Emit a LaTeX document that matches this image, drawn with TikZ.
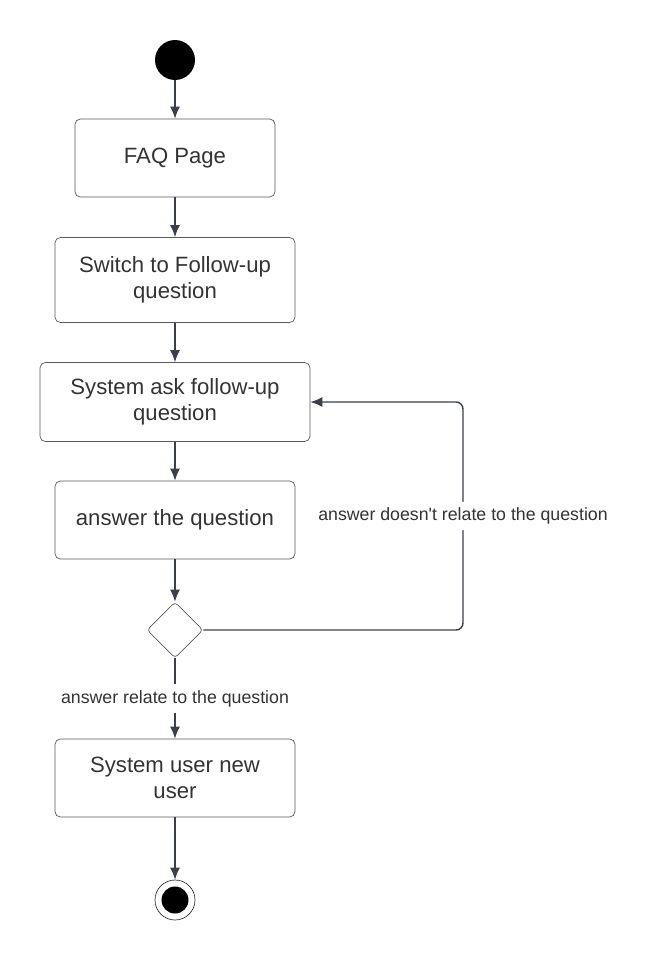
\documentclass[tikz,border=0pt]{standalone}
\usepackage{fontspec}
\setmainfont{Liberation Sans}
\usetikzlibrary{shapes.geometric, arrows, arrows.meta, positioning}
\definecolor{linegray}{HTML}{3A3F4A}
\definecolor{textgray}{HTML}{333333}

\begin{document}
\begin{tikzpicture}[x=0.02cm, y=-0.02cm]
		\tikzstyle{Act} = [rectangle, rounded corners=3pt, minimum height=1.56cm, align=center, draw=black!65, text=textgray, font=\fontsize{12.6}{14.8}\selectfont]
		\tikzstyle{Lbl} = [fill=white, text=textgray, font=\fontsize{10.1}{12}\selectfont]
		\tikzstyle{arrow} = [thick, linegray, ->, >={Latex[length=2.4mm, width=2mm]}]
		
		\useasboundingbox (0,0) rectangle (650,960);
		
		\node (start) [circle, fill=black, minimum size=0.8cm, inner sep=0] at (175,60) {};
		\node (faq) [Act, minimum width=4cm] at (175,158) {FAQ Page};
		\node (switch) [Act, minimum width=4.8cm, minimum height=1.7cm] at (175,280) {Switch to Follow-up\\question};
		\node (ask) [Act, minimum width=5.4cm, minimum height=1.58cm] at (175,402) {System ask follow-up\\question};
		\node (ans) [Act, minimum width=4.8cm] at (175,520) {answer the question};
		\node (dec) [diamond, draw=black!65, minimum size=1.12cm, inner sep=0, rounded corners=2pt] at (175,630) {};
		\node (user) [Act, minimum width=4.8cm] at (175,778) {System user new\\user};
		\node (stop) [circle, draw=black!80, minimum size=0.8cm, inner sep=0] at (175,900) {};
		\node (stopdot) [circle, fill=black, minimum size=0.54cm, inner sep=0] at (175,900) {};
		\coordinate (back) at (463,402);
		
		\draw [arrow] (start) -- (faq);
		\draw [arrow] (faq) -- (switch);
		\draw [arrow] (switch) -- (ask);
		\draw [arrow] (ask) -- (ans);
		\draw [arrow] (ans) -- (dec);
		\draw [arrow] (dec) -- node [Lbl] {answer relate to the question} (user);
		\draw [arrow] (user) -- (stop);
		\draw [arrow, rounded corners=4pt] (dec.east) -| node [Lbl, pos=0.75] {answer doesn\textquotesingle t relate to the question} (back) -- (ask.east);
\end{tikzpicture}
\end{document}
